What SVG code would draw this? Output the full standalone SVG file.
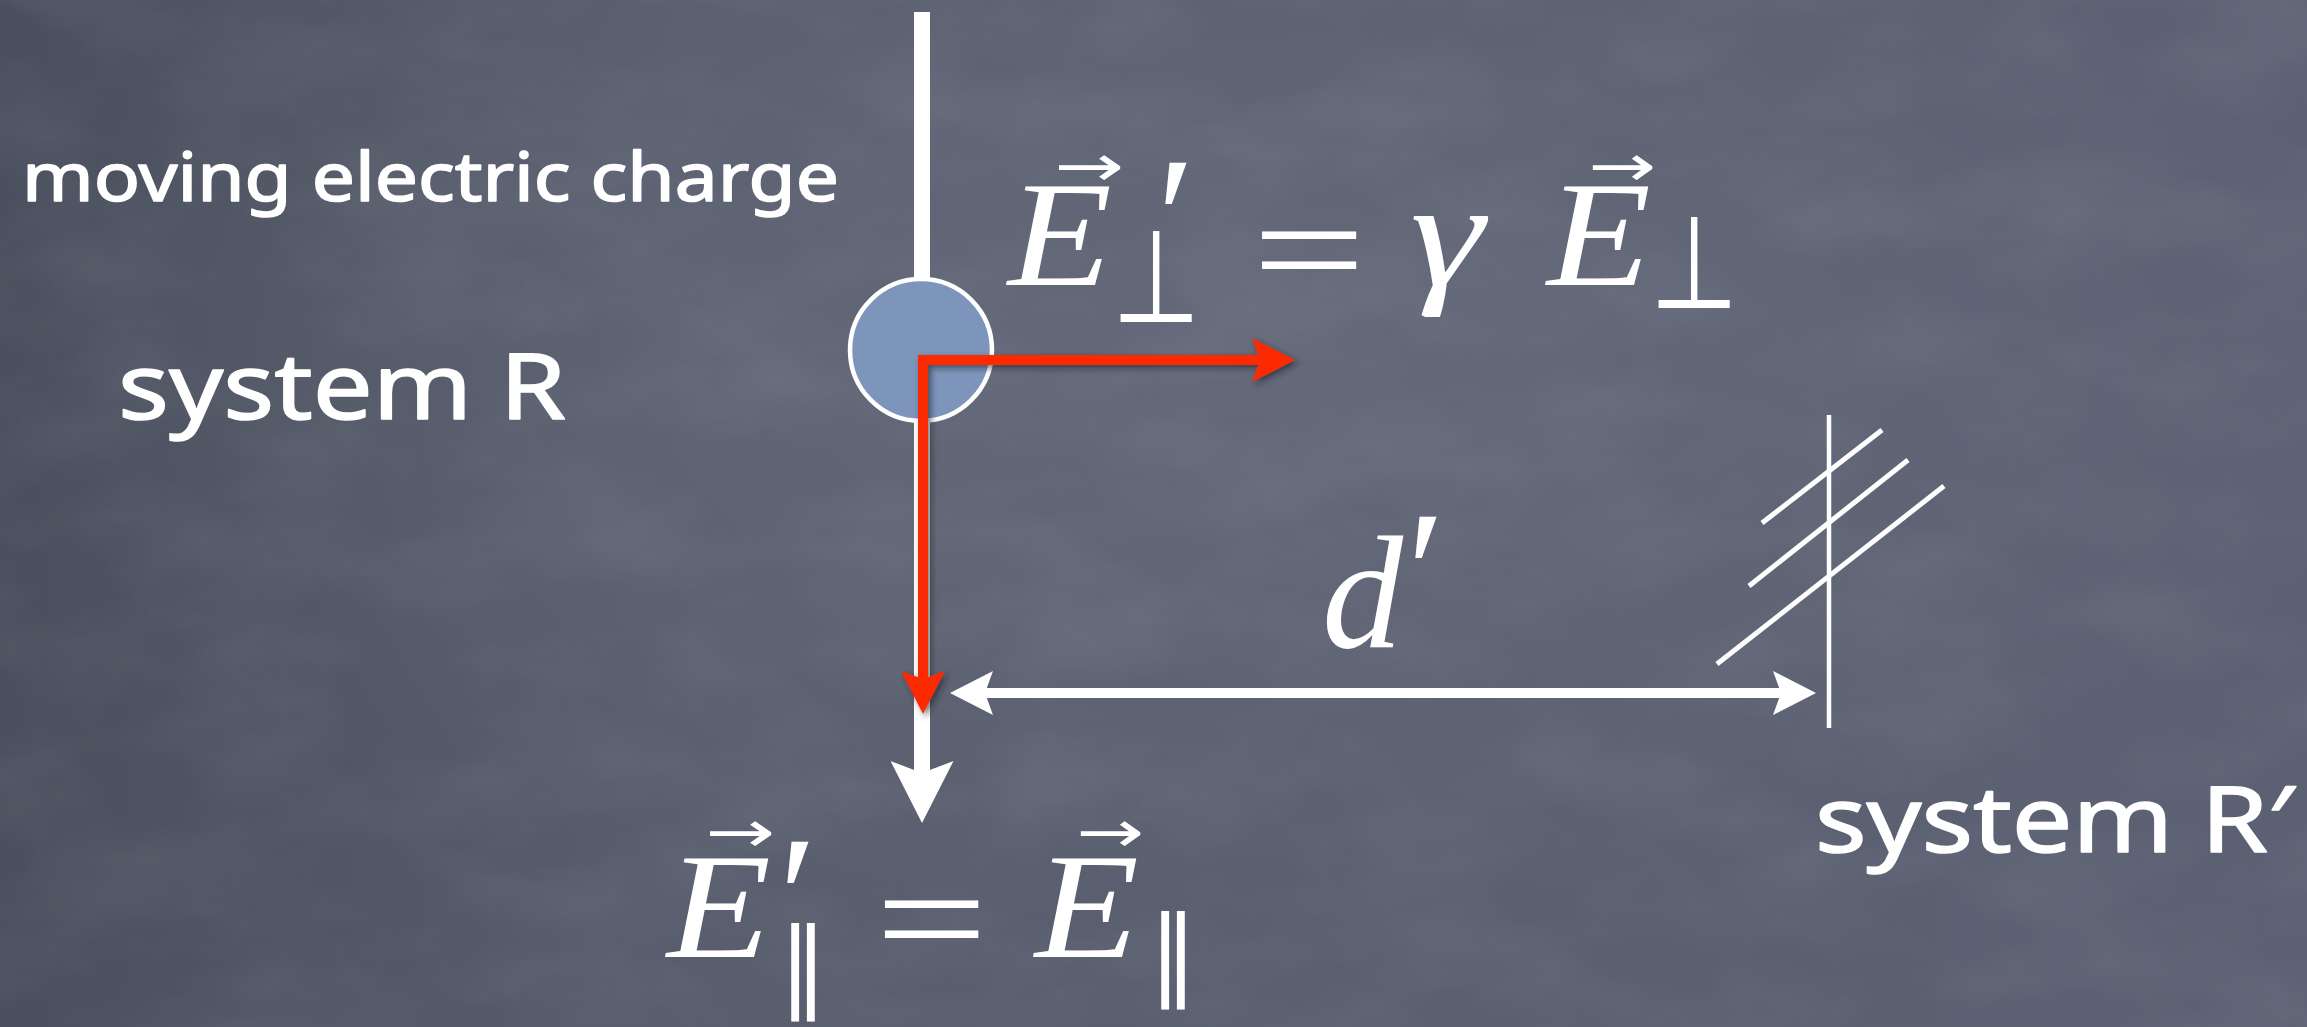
<svg xmlns="http://www.w3.org/2000/svg" width="2307" height="1027" viewBox="0 0 2307 1027">
<style>
.lbl{font-family:"Noto Sans","DejaVu Sans",sans-serif;fill:#fff;stroke:#fff;stroke-width:1.6;stroke-linejoin:round}
.mi{font-family:"Liberation Serif","Times New Roman",serif;font-style:italic;fill:#fff}
.mr{font-family:"Liberation Serif","Times New Roman",serif;fill:#fff}
.sym{font-family:"DejaVu Sans",sans-serif;fill:#fff}
.vec{font-family:"DejaVu Sans",sans-serif;fill:#fff;font-size:58px}
.wline{stroke:#fff;fill:none}
</style>
<defs>
<linearGradient id="bg" x1="0" y1="0" x2="1" y2="0">
<stop offset="0" stop-color="#4a4f5d"/>
<stop offset="0.3" stop-color="#585e6d"/>
<stop offset="1" stop-color="#5b6172"/>
</linearGradient>
<radialGradient id="glow" cx="0.55" cy="0.35" r="0.55">
<stop offset="0" stop-color="#686e7e" stop-opacity="0.7"/>
<stop offset="1" stop-color="#686e7e" stop-opacity="0"/>
</radialGradient>
<filter id="tex" x="0" y="0" width="100%" height="100%">
<feTurbulence type="fractalNoise" baseFrequency="0.006 0.012" numOctaves="4" seed="7"/>
<feColorMatrix type="matrix" values="0 0 0 0 0.8  0 0 0 0 0.82  0 0 0 0 0.9  0 0 0 0.4 -0.14"/>
</filter>
<filter id="shadow" x="-20%" y="-20%" width="140%" height="140%">
<feDropShadow dx="3" dy="3" stdDeviation="3" flood-color="#1a1d25" flood-opacity="0.6"/>
</filter>
<marker id="hw" markerUnits="userSpaceOnUse" viewBox="0 0 43 44" refX="8" refY="22" markerWidth="43" markerHeight="44" orient="auto-start-reverse">
<path d="M0,0 L43,22 L0,44 L8,22 Z" fill="#fff"/>
</marker>
<marker id="hr" markerUnits="userSpaceOnUse" viewBox="0 0 43 44" refX="8" refY="22" markerWidth="43" markerHeight="44" orient="auto-start-reverse">
<path d="M0,0 L43,22 L0,44 L8,22 Z" fill="#fb2a06"/>
</marker>
<marker id="hwL" markerUnits="userSpaceOnUse" viewBox="0 0 62 63" refX="12" refY="31.5" markerWidth="62" markerHeight="63" orient="auto">
<path d="M0,0 L62,31.5 L0,63 L12,31.5 Z" fill="#fff"/>
</marker>
</defs>

<g id="background">
<rect width="2307" height="1027" fill="url(#bg)"/>
<rect width="2307" height="1027" fill="url(#glow)"/>
<rect width="2307" height="1027" filter="url(#tex)" opacity="0.3"/>
</g>

<g id="connectors">
<path id="trajectory" class="wline" d="M922,12 L922,773" stroke-width="16" marker-end="url(#hwL)"/>
<path id="distance" class="wline" d="M985,693 L1781,693" stroke-width="10" marker-start="url(#hw)" marker-end="url(#hw)"/>
</g>

<g id="charge">
<circle cx="921" cy="350" r="71" fill="#7d95bb" stroke="#fff" stroke-width="4.5"/>
</g>

<g id="field-arrows" filter="url(#shadow)">
<path d="M1260,360 L923,360 L923,679" fill="none" stroke="#fb2a06" stroke-width="10" stroke-linejoin="miter" marker-start="url(#hr)" marker-end="url(#hr)"/>
</g>

<g id="observer">
<line class="wline" x1="1829" y1="415" x2="1829" y2="728" stroke-width="4.5"/>
<line class="wline" x1="1762" y1="523" x2="1882" y2="430" stroke-width="5"/>
<line class="wline" x1="1749" y1="586" x2="1908" y2="460" stroke-width="5"/>
<line class="wline" x1="1717" y1="664" x2="1944" y2="486" stroke-width="5"/>
</g>

<g id="labels">
<text class="lbl" x="22" y="201" font-size="68" textLength="817" lengthAdjust="spacingAndGlyphs">moving electric charge</text>
<text class="lbl" x="118" y="419" font-size="92" textLength="448" lengthAdjust="spacingAndGlyphs">system R</text>
<text class="lbl" x="1815" y="852" font-size="92" textLength="478" lengthAdjust="spacingAndGlyphs">system R′</text>
</g>

<g id="eq-perp">
<text class="mi" x="1008" y="285" font-size="150" textLength="104" lengthAdjust="spacingAndGlyphs">E</text>
<text class="vec" x="1054" y="186" textLength="70" lengthAdjust="spacingAndGlyphs">→</text>
<text class="mi" x="1146" y="278" font-size="175">′</text>
<text class="sym" transform="translate(1112,322) scale(0.78,1)" font-size="130">⊥</text>
<text class="mr" x="1252" y="300" font-size="150" textLength="114" lengthAdjust="spacingAndGlyphs">=</text>
<text class="mi" x="1410" y="285" font-size="150" textLength="74" lengthAdjust="spacingAndGlyphs">γ</text>
<text class="mi" x="1547" y="285" font-size="150" textLength="104" lengthAdjust="spacingAndGlyphs">E</text>
<text class="vec" x="1588" y="186" textLength="68" lengthAdjust="spacingAndGlyphs">→</text>
<text class="sym" transform="translate(1650,308) scale(0.78,1)" font-size="130">⊥</text>
</g>

<g id="eq-par">
<text class="mi" x="667" y="957" font-size="150" textLength="104" lengthAdjust="spacingAndGlyphs">E</text>
<text class="vec" x="705" y="852" textLength="70" lengthAdjust="spacingAndGlyphs">→</text>
<text class="mi" x="768" y="957" font-size="175">′</text>
<text class="sym" x="778" y="1000" font-size="100">∥</text>
<text class="mr" x="875" y="969" font-size="150" textLength="113" lengthAdjust="spacingAndGlyphs">=</text>
<text class="mi" x="1035" y="957" font-size="150" textLength="104" lengthAdjust="spacingAndGlyphs">E</text>
<text class="vec" x="1076" y="852" textLength="68" lengthAdjust="spacingAndGlyphs">→</text>
<text class="sym" x="1148" y="988" font-size="100">∥</text>
</g>

<g id="distance-label">
<text class="mi" x="1322" y="647" font-size="162">d</text>
<text class="mi" x="1396" y="632" font-size="175">′</text>
</g>
</svg>
